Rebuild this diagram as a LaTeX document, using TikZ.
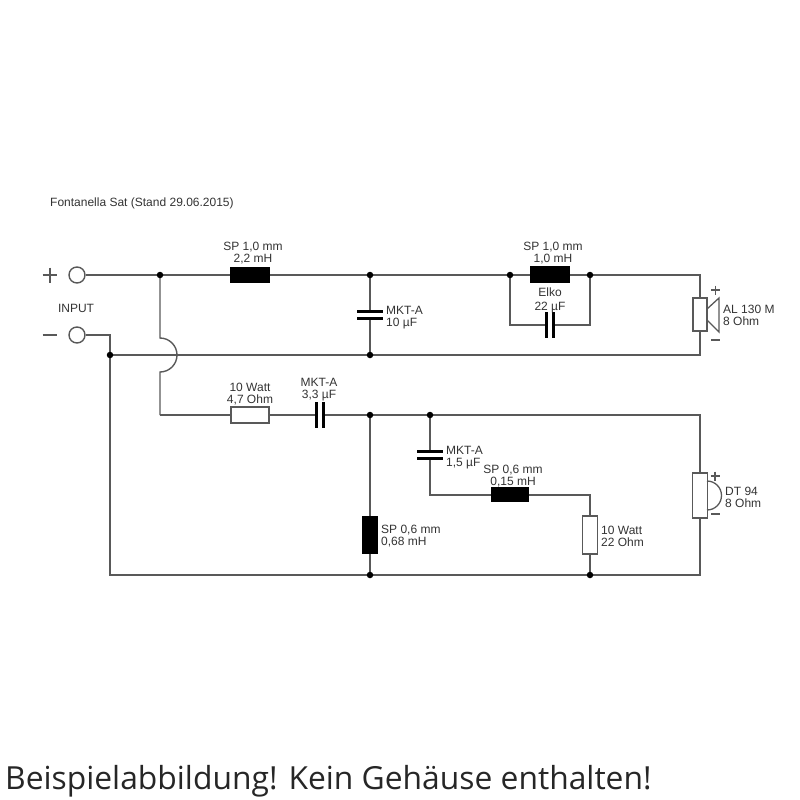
\documentclass[tikz,border=0pt]{standalone}
\usepackage{fontspec}
\setmainfont{Liberation Sans}
\newfontfamily\capfont{Open Sans}
\begin{document}
\begin{tikzpicture}[x=1pt,y=-1pt,
  wire/.style={draw=black!65,line width=1.4pt},
  dotn/.style={circle,fill=black,inner sep=0pt,minimum size=6.5pt},
  term/.style={circle,draw=black!65,line width=1.4pt,fill=white,inner sep=0pt,minimum size=16pt},
  ind/.style={rectangle,fill=black,draw=none,inner sep=0pt},
  res/.style={rectangle,draw=black!65,line width=1.2pt,fill=white,inner sep=0pt},
  plate/.style={rectangle,fill=black,draw=none,inner sep=0pt},
  lbl/.style={inner sep=0pt,align=center,font=\fontsize{12}{12}\selectfont,text=black!80},
  lbll/.style={inner sep=0pt,align=left,font=\fontsize{12}{12}\selectfont,text=black!80},
  sym/.style={draw=black!65,line width=1.3pt}
]
\useasboundingbox (0,0) rectangle (800,800);
% parts first, so that wires can be drawn from their names
\node[term] (tp) at (77,275) {};
\node[term] (tm) at (77,335) {};
\coordinate (c1) at (110,335);
\coordinate (c2) at (110,575);
\coordinate (c3) at (160,338);
\coordinate (c5) at (160,415);
\coordinate (c6) at (510,325);
\coordinate (c7) at (590,325);
\coordinate (c8) at (700,275);
\coordinate (c9) at (700,355);
\coordinate (c10) at (700,415);
\coordinate (c11) at (700,575);
\coordinate (c12) at (430,495);
\coordinate (c13) at (590,495);
\coordinate (j1) at (160,275);
\coordinate (j2) at (370,275);
\coordinate (j3) at (510,275);
\coordinate (j4) at (590,275);
\coordinate (j5) at (110,355);
\coordinate (j6) at (370,355);
\coordinate (j7) at (370,415);
\coordinate (j8) at (430,415);
\coordinate (j9) at (370,575);
\coordinate (j10) at (590,575);
\coordinate (s1) at (700,314.5);
\coordinate (s2) at (700,495.5);
% wires, behind the parts
\draw[wire] (tp) -- (c8) -- (s1) -- (c9) -- (j5);
\draw[wire,line join=miter] (tm) -- (c1) -- (c2) -- (c11) -- (s2) -- (c10) -- (c5);
\draw[wire] (j1) -- (c3) arc[start angle=-90,end angle=90,radius=17] -- (c5);
\draw[wire] (j2) -- (j6);
\draw[wire] (j3) -- (c6) -- (c7) -- (j4);
\draw[wire] (j7) -- (j9);
\draw[wire] (j8) -- (c12) -- (c13) -- (j10);
% components
\node[ind,minimum width=40pt,minimum height=16pt] (L1) at (250,275) {};
\node[ind,minimum width=40pt,minimum height=17pt] (L2) at (550,274.5) {};
\node[ind,minimum width=38pt,minimum height=15pt] (L3) at (510,494.5) {};
\node[ind,minimum width=16pt,minimum height=38pt] (L4) at (370,535) {};
\node[res,minimum width=38pt,minimum height=16pt] (R1) at (250,415) {};
\node[res,minimum width=15pt,minimum height=38pt] (R2) at (590,535) {};
\node[res,minimum width=14pt,minimum height=33pt] (SP1) at (s1) {};
\node[res,minimum width=15pt,minimum height=45pt] (SP2) at (s2) {};
% capacitors: white gap, then two plates
\fill[white] (360,313) rectangle (380,317);
\fill[white] (548,315) rectangle (552,335);
\fill[white] (318,405) rectangle (322,425);
\fill[white] (420,453) rectangle (440,457);
\node[plate,minimum width=26pt,minimum height=3pt] (C1a) at (370,311.5) {};
\node[plate,minimum width=26pt,minimum height=3pt] (C1b) at (370,318.5) {};
\node[plate,minimum width=3pt,minimum height=26pt] (C2a) at (546.5,325) {};
\node[plate,minimum width=3pt,minimum height=26pt] (C2b) at (553.5,325) {};
\node[plate,minimum width=3pt,minimum height=26pt] (C3a) at (316.5,415) {};
\node[plate,minimum width=3pt,minimum height=26pt] (C3b) at (323.5,415) {};
\node[plate,minimum width=26pt,minimum height=3pt] (C4a) at (430,451.5) {};
\node[plate,minimum width=26pt,minimum height=3pt] (C4b) at (430,458) {};
% junction dots
\foreach \p in {j1,j2,j3,j4,j5,j6,j7,j8,j9,j10} \node[dotn] (d\p) at (\p) {};
% speaker bodies
\draw[sym,line join=miter] (707,309) -- (719,298) -- (719,332) -- (707,320);
\draw[sym] (707,481) arc[start angle=-90,end angle=90,radius=14.5];
% polarity
\draw[sym] (42.5,275) -- (57,275) (50,267.5) -- (50,282.5);
\draw[sym] (42.5,335) -- (57,335);
\draw[sym] (711,290) -- (720,290) (715.5,285.5) -- (715.5,294.5);
\draw[sym] (711,340) -- (720,340);
\draw[sym] (710.5,476) -- (719.5,476) (715,471.5) -- (715,480.5);
\draw[sym] (711,514) -- (720,514);
% labels
\node[lbll,anchor=west] (title) at (50,203) {Fontanella Sat (Stand 29.06.2015)};
\node[lbl] (inp) at (76,308) {INPUT};
\node[lbl] (tL1) at (253,253) {SP 1,0 mm\\2,2 mH};
\node[lbl] (tL2) at (553,253) {SP 1,0 mm\\1,0 mH};
\node[lbl] (tC2) at (550,300.5) {Elko\\[1.5pt]22 µF};
\node[lbll,anchor=west] (tC1) at (386,318) {MKT-A\\10 µF};
\node[lbll,anchor=west] (tSP1) at (723,315.5) {AL 130 M\\8 Ohm};
\node[lbl] (tR1) at (250,394) {10 Watt\\4,7 Ohm};
\node[lbl] (tC3) at (319,390) {MKT-A\\3,3 µF};
\node[lbll,anchor=west] (tC4) at (446,458) {MKT-A\\1,5 µF};
\node[lbl] (tL3) at (513,476.5) {SP 0,6 mm\\0,15 mH};
\node[lbll,anchor=west] (tL4) at (381,536.5) {SP 0,6 mm\\0,68 mH};
\node[lbll,anchor=west] (tR2) at (601,536) {10 Watt\\22 Ohm};
\node[lbll,anchor=west] (tSP2) at (725,497) {DT 94\\8 Ohm};
\node[inner sep=0pt,anchor=west,font=\capfont\fontsize{31.8}{34}\selectfont,text=black!85] (cap) at (5,781) {Beispielabbildung! Kein Gehäuse enthalten!};
\end{tikzpicture}
\end{document}
